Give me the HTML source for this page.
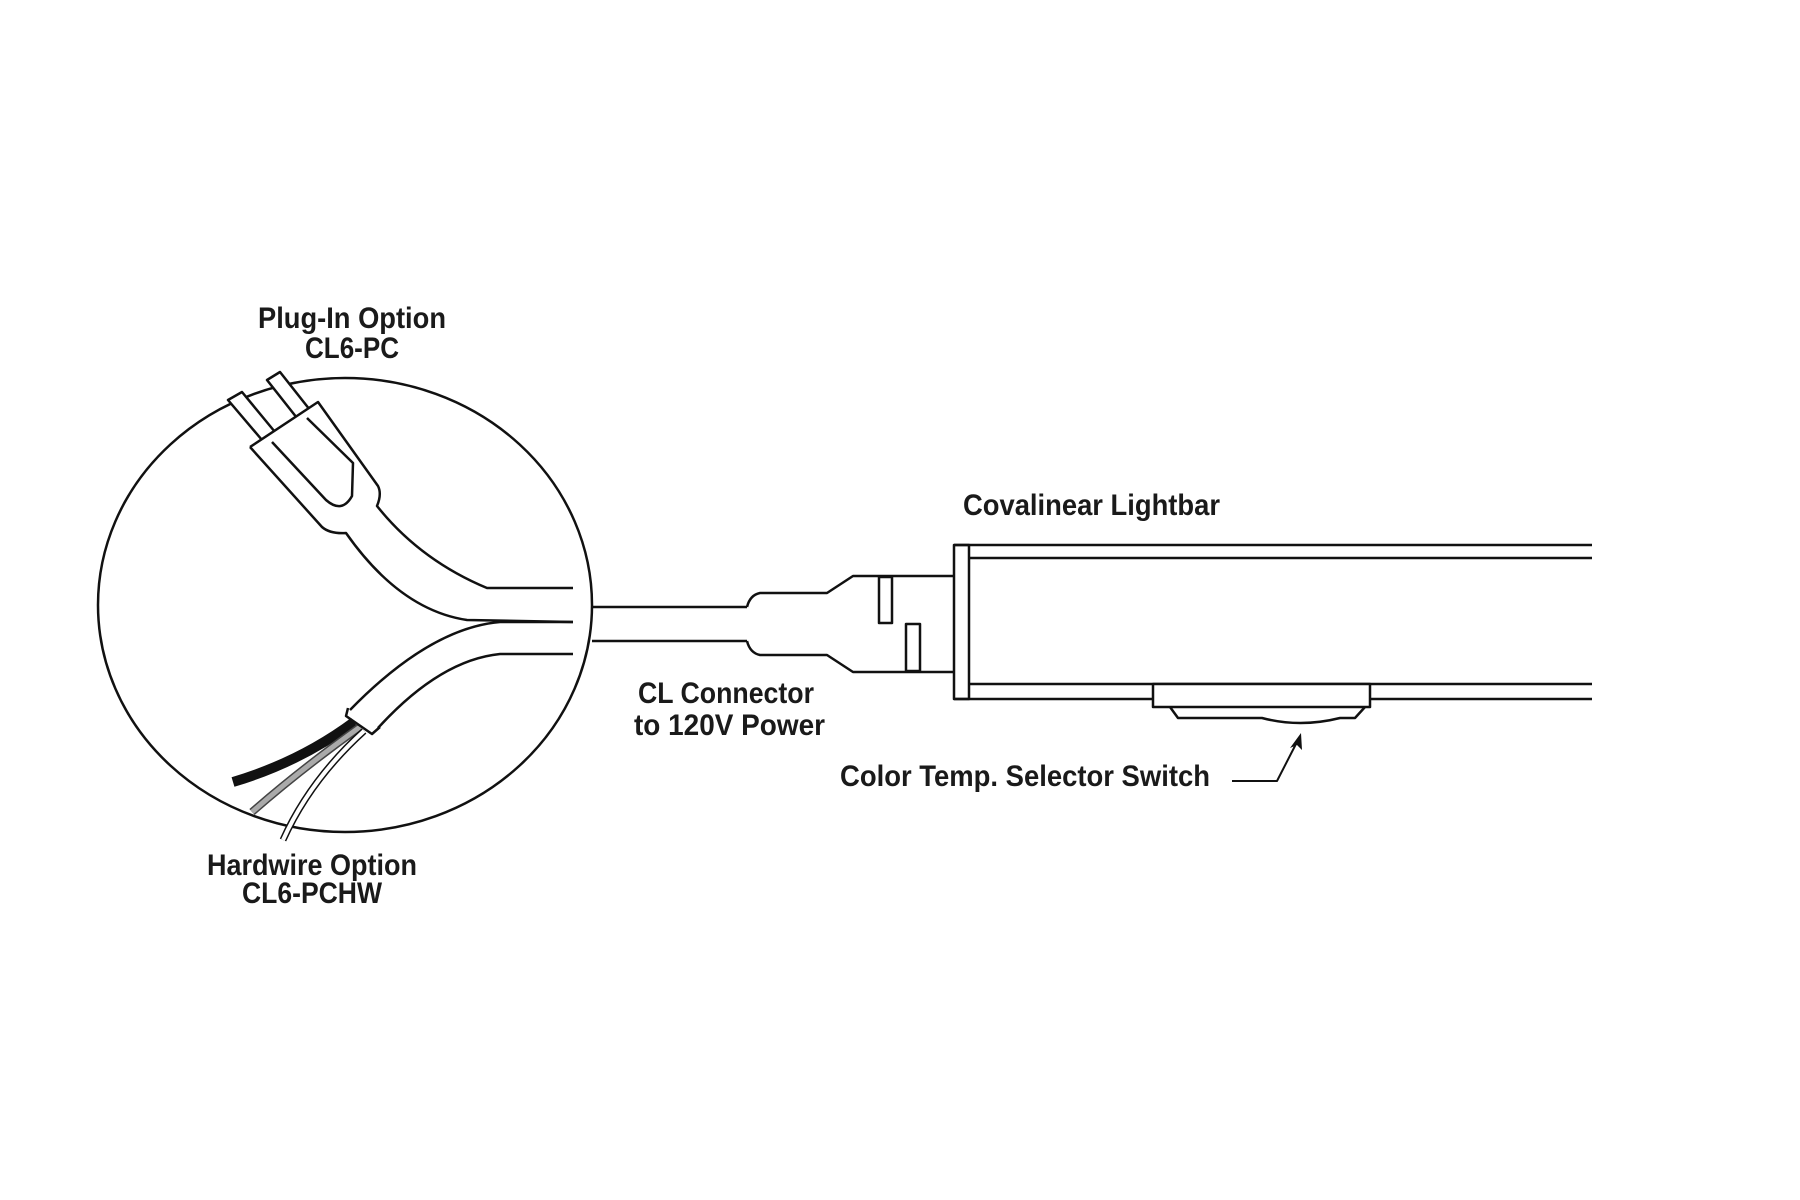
<!DOCTYPE html>
<html><head><meta charset="utf-8"><style>
html,body{margin:0;padding:0;background:#fff;}
svg{display:block}
text{font-family:"Liberation Sans Narrow","Liberation Sans",sans-serif;font-weight:bold;font-size:30px;fill:#1a1a1a}
</style></head><body>
<svg width="1800" height="1200" viewBox="0 0 1800 1200" xmlns="http://www.w3.org/2000/svg">
<g fill="none" stroke="#111" stroke-width="2.5" stroke-linejoin="round">
<ellipse cx="345" cy="605" rx="247" ry="227"/>
<path d="M233,782 Q300,762 354,722" stroke="#111" stroke-width="10" fill="none"/>
<path d="M252,812 Q300,770 360,727" stroke="#444" stroke-width="8"/>
<path d="M252,812 Q300,770 360,727" stroke="#aaa" stroke-width="5"/>
<path d="M283,840 Q310,780 364,731" stroke="#111" stroke-width="7"/>
<path d="M283,840 Q310,780 364,731" stroke="#fff" stroke-width="4"/>
<path d="M573,622 L500,622 Q430,628 350,710" fill="#fff"/>
<path d="M573,654 L500,654 Q440,660 378,728"/>
<path d="M348,708 L346,716 L372,734 L380,727"/>
<path d="M262,440 L228,400 L242,392 L275,432" fill="#fff"/>
<path d="M297,418 L267,380 L280,372 L310,410" fill="#fff"/>
<path d="M250,447 L318,402 L378,486 Q382,494 377,506 Q420,560 487,588 L573,588" fill="#fff"/>
<path d="M250,447 L322,527 Q330,534 346,533 Q400,610 467,620 L573,622"/>
<path d="M272,442 L326,500 Q342,514 352,496 L353,463 L307,418"/>
<path d="M592,607 L747,607"/>
<path d="M592,641 L747,641"/>
<path d="M747,607 Q750,595 760,593 L827,593 L853,576 L954,576"/>
<path d="M747,641 Q750,653 760,655 L827,655 L853,672 L954,672"/>
<rect x="879" y="577" width="13" height="46"/>
<rect x="906" y="624" width="14" height="47"/>
<rect x="954" y="545" width="15" height="154"/>
<path d="M954,545 L1592,545"/>
<path d="M969,558 L1592,558"/>
<path d="M969,684 L1592,684"/>
<path d="M954,699 L1153,699"/>
<path d="M1370,699 L1592,699"/>
<rect x="1153" y="684" width="217" height="23" fill="#fff"/>
<path d="M1170,707 L1178,718 L1262,718 Q1300,728 1340,718 L1355,718 L1365,707"/>
<path d="M1232,781 L1277,781 L1297,742" stroke-width="2"/>
</g>
<path d="M1301,733 L1290,748 L1297,745 L1302,750 Z" fill="#111"/>
<text x="258" y="328" textLength="188" lengthAdjust="spacingAndGlyphs">Plug-In Option</text>
<text x="305" y="358" textLength="94" lengthAdjust="spacingAndGlyphs">CL6-PC</text>
<text x="207" y="875" textLength="210" lengthAdjust="spacingAndGlyphs">Hardwire Option</text>
<text x="242" y="903" textLength="140" lengthAdjust="spacingAndGlyphs">CL6-PCHW</text>
<text x="963" y="515" textLength="257" lengthAdjust="spacingAndGlyphs">Covalinear Lightbar</text>
<text x="638" y="703" textLength="176" lengthAdjust="spacingAndGlyphs">CL Connector</text>
<text x="634" y="735" textLength="191" lengthAdjust="spacingAndGlyphs">to 120V Power</text>
<text x="840" y="786" textLength="370" lengthAdjust="spacingAndGlyphs">Color Temp. Selector Switch</text>
</svg>
</body></html>
